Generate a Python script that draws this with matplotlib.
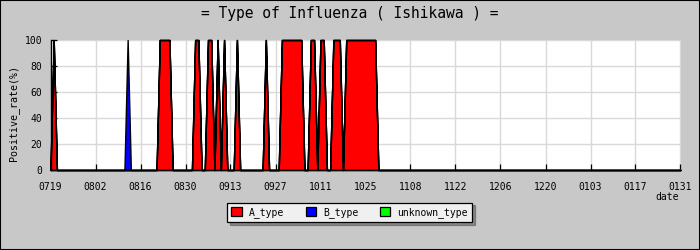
import matplotlib

matplotlib.use("Agg")
import matplotlib.pyplot as plt
import numpy as np
from matplotlib.patches import Patch, Rectangle

# days counted from 07/19; value = positive rate (%) on that day
N_DAYS = 197
A_DAYS = [1, 34, 35, 36, 37, 45, 46, 49, 50, 52, 54, 58, 67,
          72, 73, 74, 75, 76, 77, 78, 81, 82, 84, 85, 88, 89, 90,
          92, 93, 94, 95, 96, 97, 98, 99, 100, 101]
A_RATE = [100, 100, 100, 100, 100, 100, 100, 100, 100, 100, 100, 100, 100,
          100, 100, 100, 100, 100, 100, 100, 100, 100, 100, 100, 100, 100, 100,
          100, 100, 100, 100, 100, 100, 100, 100, 100, 100]
B_DAYS = [24]
B_RATE = [100]
UNKNOWN_DAYS = []
UNKNOWN_RATE = []

SERIES_NAMES = ["A_type", "B_type", "unknown_type"]
SERIES_COLORS = ["#ff0000", "#0000ff", "#00ff00"]

TICK_LABELS = ["0719", "0802", "0816", "0830", "0913", "0927", "1011", "1025",
               "1108", "1122", "1206", "1220", "0103", "0117", "0131"]
Y_TICKS = [0, 20, 40, 60, 80, 100]

BG = "#c8c8c8"
GRID = "#d9d9d9"
MONO = "DejaVu Sans Mono"

days = np.arange(N_DAYS)
series = []
for d, r in [(A_DAYS, A_RATE), (B_DAYS, B_RATE), (UNKNOWN_DAYS, UNKNOWN_RATE)]:
    v = np.zeros(N_DAYS)
    if d:
        v[np.array(d)] = r
    series.append(v)

fig = plt.figure(figsize=(7, 2.5), dpi=100, facecolor=BG)
ax = fig.add_axes([50.5 / 700, 80 / 250, 630 / 700, 130 / 250])
ax.set_facecolor("white")

base = np.zeros(N_DAYS)
for vals, color in zip(series, SERIES_COLORS):
    if not vals.any():
        continue
    top = base + vals
    poly = ax.fill_between(days, base, top, facecolor=color, edgecolor="black",
                           linewidth=1.0, zorder=3)
    poly.set_clip_on(False)
    base = top

ax.set_xlim(0, N_DAYS - 1)
ax.set_ylim(0, 100)
ax.set_xticks(np.arange(len(TICK_LABELS)) * 14)
ax.set_xticklabels(TICK_LABELS, fontsize=7, family=MONO)
ax.set_yticks(Y_TICKS)
ax.set_yticklabels([str(t) for t in Y_TICKS], fontsize=7, family=MONO)
ax.tick_params(direction="in", length=4, width=0.9, color="black")
ax.tick_params(axis="x", pad=9)
ax.tick_params(axis="y", pad=6)

ax.set_axisbelow(True)
ax.grid(True, color=GRID, linewidth=1.0)
for side in ("top", "right"):
    ax.spines[side].set_visible(False)
for side in ("left", "bottom"):
    ax.spines[side].set_linewidth(1.0)
    ax.spines[side].set_zorder(5)

ax.set_ylabel("Positive_rate(%)", fontsize=7.2, family=MONO)
ax.yaxis.set_label_coords(-0.05, 0.44)

fig.text(0.5, 1 - 13.5 / 250, "= Type of Influenza ( Ishikawa ) =",
         ha="center", va="center", fontsize=10.5, family=MONO)
fig.text(667 / 700, 1 - 197 / 250, "date", ha="center", va="center",
         fontsize=7, family=MONO)

handles = [Patch(facecolor=c, edgecolor="black", linewidth=0.9) for c in SERIES_COLORS]
leg = fig.legend(handles, SERIES_NAMES, loc="center",
                 bbox_to_anchor=(349.6 / 700, 1 - 212.5 / 250), ncol=3,
                 prop={"family": MONO, "size": 7}, frameon=True, fancybox=False,
                 shadow=True, handlelength=1.1, handleheight=1.0,
                 handletextpad=0.7, columnspacing=2.2, borderpad=0.45,
                 borderaxespad=0.0)
leg.get_frame().set_facecolor("#f0f0f0")
leg.get_frame().set_edgecolor("black")
leg.get_frame().set_linewidth(0.9)
leg.get_frame().set_alpha(1.0)

fig.add_artist(Rectangle((0, 0), 1, 1, transform=fig.transFigure, fill=False,
                         edgecolor="black", linewidth=1.5))

fig.savefig("out.png", dpi=100, facecolor=BG)
